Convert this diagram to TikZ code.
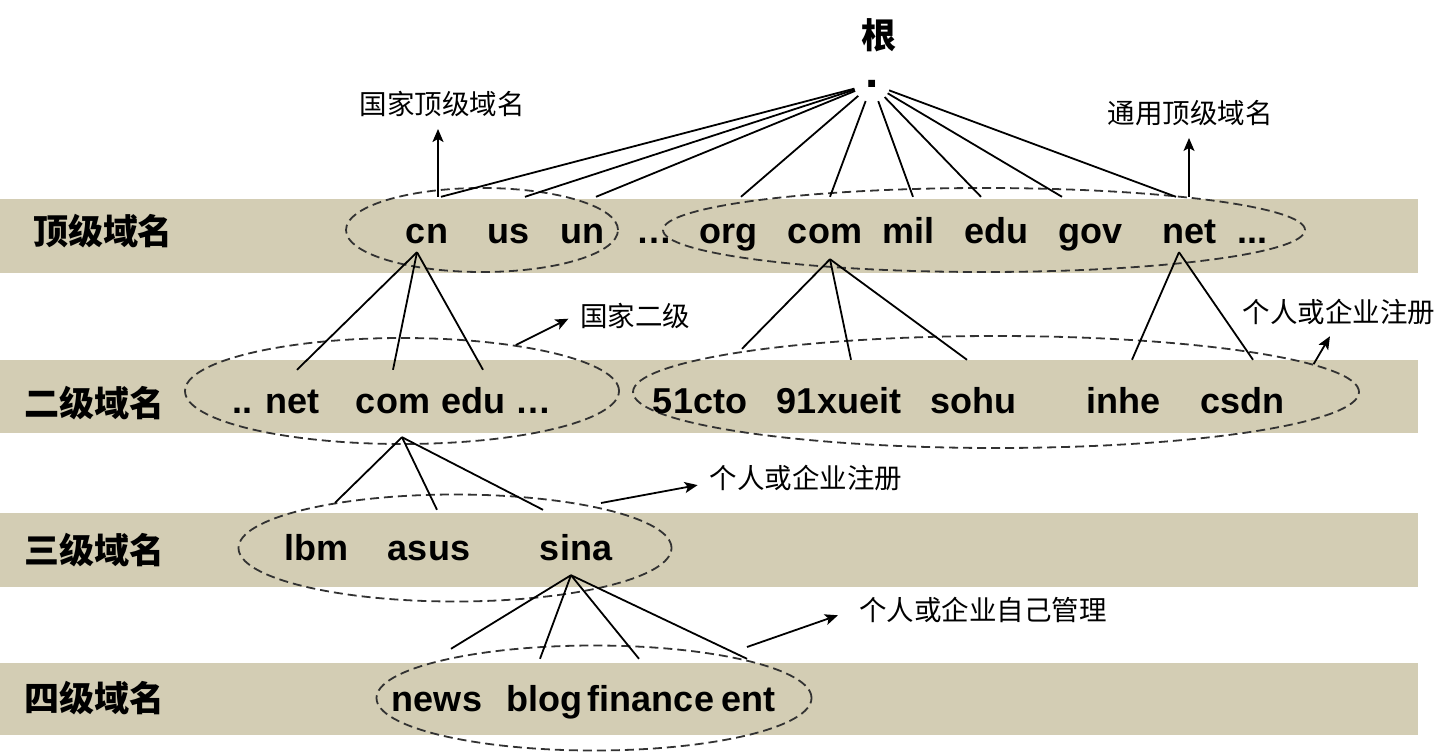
\documentclass[tikz,border=0pt]{standalone}
\usepackage{fontspec}
\setmainfont{Liberation Sans}
\newfontfamily\cjk{Noto Sans CJK SC}
\usetikzlibrary{shapes.geometric, arrows.meta}
\definecolor{bandtan}{RGB}{211, 205, 180}
\definecolor{grpgray}{RGB}{50, 50, 50}
\tikzset{
  band/.style={fill=bandtan, draw=none},
  grp/.style={
    ellipse, draw=grpgray, line width=1.8pt,
    dash pattern=on 9pt off 5pt, inner sep=0pt
  },
  dom/.style={
    font=\fontsize{36}{40}\selectfont\bfseries,
    inner sep=0pt, anchor=base
  },
  lvl/.style={font=\cjk\bfseries\fontsize{35}{40}\selectfont, inner sep=0pt},
  note/.style={font=\cjk\fontsize{27.5}{32}\selectfont, inner sep=6pt},
  tree/.style={line width=1.8pt},
  narr/.style={-{Stealth[length=13pt,width=11pt,inset=3pt]}, line width=1.8pt, shorten >=6pt},
}

\begin{document}
\begin{tikzpicture}[x=1pt, y=-1pt]
  \useasboundingbox (0,0) rectangle (1454,752);
  % bands
  \fill[band] (0,199) rectangle (1418,273);
  \fill[band] (0,360) rectangle (1418,433);
  \fill[band] (0,513) rectangle (1418,587);
  \fill[band] (0,663) rectangle (1418,735);

  % groups
  \node[grp, minimum width=272pt, minimum height=84pt] (g1a) at (482,230) {};
  \node[grp, minimum width=642pt, minimum height=84pt] (g1b) at (984,230) {};
  \node[grp, minimum width=434pt, minimum height=106pt] (g2a) at (402,391) {};
  \node[grp, minimum width=726pt, minimum height=112pt] (g2b) at (996,392) {};
  \node[grp, minimum width=433pt, minimum height=107pt] (g3) at (455,548) {};
  \node[grp, minimum width=435pt, minimum height=105pt] (g4) at (594,698) {};

  % level names
  \node[lvl] (root) at (879,35) {根};
  \node[lvl] (l1) at (103,231) {顶级域名};
  \node[lvl] (l2) at (94,403) {二级域名};
  \node[lvl] (l3) at (94,550) {三级域名};
  \node[lvl] (l4) at (94,698) {四级域名};

  \node[circle, minimum size=36pt, inner sep=0pt, font=\fontsize{48}{50}\selectfont\bfseries] (dot) at (872,84) {.};

  % top level
  \begin{scope}[every node/.style={dom, text height=46pt, text depth=9pt}]
    \node (cn)    at (427,243) {cn};
    \node (us)    at (509,243) {us};
    \node (un)    at (582,243) {un};
    \node (tdots) at (654,243) {…};
    \node (org)   at (728,243) {org};
    \node (com)   at (825,243) {com};
    \node (mil)   at (908,243) {mil};
    \node (edu)   at (996,243) {edu};
    \node (gov)   at (1090,243) {gov};
    \node (net)   at (1189,243) {net};
    \node (tmore) at (1252,243) {...};
  \end{scope}

  % second level
  \begin{scope}[every node/.style={dom, text height=43pt, text depth=24pt}]
    \node (dnet)  at (276,413) {.. net};
    \node (scom)  at (393,413) {com};
    \node (sedu)  at (473,413) {edu};
    \node (sdots) at (533,413) {…};
    \node[text height=53pt] (cto)   at (700,413) {51cto};
    \node[text height=53pt] (xueit) at (839,413) {91xueit};
    \node[text height=53pt] (sohu)  at (973,413) {sohu};
    \node[text height=53pt] (inhe)  at (1123,413) {inhe};
    \node[text height=53pt] (csdn)  at (1242,413) {csdn};
  \end{scope}

  % third level
  \begin{scope}[every node/.style={dom, text height=50pt, text depth=15pt}]
    \node (lbm)  at (316,560) {lbm};
    \node (asus) at (429,560) {asus};
    \node (sina) at (576,560) {sina};
  \end{scope}

  % fourth level
  \begin{scope}[every node/.style={dom, text height=52pt, text depth=9pt}]
    \node (news) at (437,711) {news};
    \node (blog) at (544,711) {blog};
    \node (fin)  at (651,711) {finance};
    \node (ent)  at (748,711) {ent};
  \end{scope}

  % tree lines
  \foreach \c/\dx in {cn/14, us/16, un/14, org/13, com/5, mil/5, edu/-15, gov/-28, net/-13}
    \draw[tree] (dot) -- ([xshift=\dx pt]\c.north);
  \foreach \c/\dx in {dnet/21, scom/0, sedu/10}
    \draw[tree] ([xshift=-10pt]cn.south) -- ([xshift=\dx pt]\c.north);
  \foreach \c/\dx/\dy in {cto/42/11, xueit/12/0, sohu/-6/0}
    \draw[tree] ([xshift=5pt,yshift=-7pt]com.south) -- ([xshift=\dx pt,yshift=\dy pt]\c.north);
  \foreach \c/\dx in {inhe/9, csdn/11}
    \draw[tree] ([xshift=-10pt]net.south) -- ([xshift=\dx pt]\c.north);
  \foreach \c/\dx/\dy in {lbm/19/7, asus/8/0, sina/-33/0}
    \draw[tree] ([xshift=9pt]scom.south) -- ([xshift=\dx pt,yshift=\dy pt]\c.north);
  \foreach \c/\dx/\dy in {news/14/10, blog/-4/0, fin/-12/0, ent/-1/0}
    \draw[tree] ([xshift=-5pt]sina.south) -- ([xshift=\dx pt,yshift=\dy pt]\c.north);

  % notes
  \node[note] (cclbl) at (442,104) {国家顶级域名};
  \node[note] (gglbl) at (1190,113) {通用顶级域名};
  \node[note] (e2lbl) at (635,316) {国家二级};
  \node[note] (r2lbl) at (1339,312) {个人或企业注册};
  \node[note] (r3lbl) at (806,478) {个人或企业注册};
  \node[note] (r4lbl) at (983,610) {个人或企业自己管理};
  \coordinate (r3from) at (601,503);
  \coordinate (r4from) at (747,647);

  \draw[narr] ([xshift=11pt]cn.north) -- ([xshift=11pt]cn.north |- cclbl.south);
  \draw[narr] (net.north) -- (net.north |- gglbl.south);
  \draw[narr] (g2a.22) -- (e2lbl.west);
  \draw[narr] (g2b.5) -- ([xshift=-6pt]r2lbl.south);
  \draw[narr] (r3from) -- ([yshift=-6pt]r3lbl.west);
  \draw[narr, shorten >=16pt] (r4from) -- (r4lbl.west);
\end{tikzpicture}
\end{document}
